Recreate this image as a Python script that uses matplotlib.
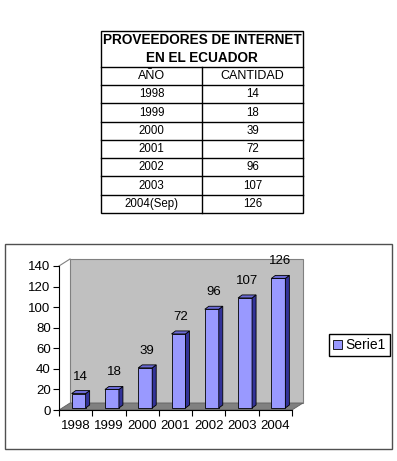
import numpy as np
import matplotlib
matplotlib.use("Agg")
import matplotlib.pyplot as plt
from matplotlib.patches import Rectangle, Polygon

plt.rcParams['font.family'] = ['Liberation Sans', 'DejaVu Sans']

# data
title_lines = ["PROVEEDORES DE INTERNET", "EN EL ECUADOR"]
col_headers = ["AÑO", "CANTIDAD"]
table_years = ["1998", "1999", "2000", "2001", "2002", "2003", "2004(Sep)"]
counts = [14, 18, 39, 72, 96, 107, 126]
chart_years = ["1998", "1999", "2000", "2001", "2002", "2003", "2004"]
series_name = "Serie1"

W, H = 397, 461
fig = plt.figure(figsize=(W / 100, H / 100), dpi=100)

# pixel-space background axes for table, frame
bg = fig.add_axes([0, 0, 1, 1])
bg.set_xlim(0, W)
bg.set_ylim(H, 0)
bg.axis('off')

# ---- table ----
t_left, t_right, t_mid = 101, 303, 202
t_top, t_title_bot, t_bot = 31.5, 67, 213
n_rows = len(table_years) + 1
row_h = (t_bot - t_title_bot) / n_rows

bg.add_patch(Rectangle((t_left, t_top), t_right - t_left, t_bot - t_top,
                       fill=False, edgecolor='black', lw=1))
for i in range(n_rows):
    y = t_title_bot + i * row_h
    bg.plot([t_left, t_right], [y, y], color='black', lw=1)
bg.plot([t_mid, t_mid], [t_title_bot, t_bot], color='black', lw=1)

for i, line in enumerate(title_lines):
    bg.text((t_left + t_right) / 2, 40.5 + i * 17.5, line, ha='center', va='center',
            fontsize=9.8, fontweight='bold')

c1 = (t_left + t_mid) / 2
c2 = (t_mid + t_right) / 2
yc = t_title_bot + row_h / 2
bg.text(c1, yc, col_headers[0], ha='center', va='center', fontsize=9)
bg.text(c2, yc, col_headers[1], ha='center', va='center', fontsize=9)
for i, (yr, n) in enumerate(zip(table_years, counts)):
    yc = t_title_bot + (i + 1.5) * row_h
    bg.text(c1, yc, yr, ha='center', va='center', fontsize=8.3)
    bg.text(c2, yc, str(n), ha='center', va='center', fontsize=8.3)

# ---- chart frame ----
bg.add_patch(Rectangle((5, 243.5), 386.5, 205, fill=False, edgecolor='#505050', lw=1))

# ---- chart axes ----
ax_l, ax_r, ax_t, ax_b = 59, 292, 266, 410
ax = fig.add_axes([ax_l / W, (H - ax_b) / H, (ax_r - ax_l) / W, (ax_b - ax_t) / H])
n = len(counts)
ymax = 140
ax.set_xlim(0, n)
ax.set_ylim(0, ymax)
ax.patch.set_visible(False)

PX_X = n / (ax_r - ax_l)
PX_Y = ymax / (ax_b - ax_t)

wall_dx, wall_dy = 11 * PX_X, 7 * PX_Y
bar_dx, bar_dy = 3 * PX_X, 2 * PX_Y
dep_x, dep_y = 4 * PX_X, 3 * PX_Y
bw = 0.42

# back wall and floor
ax.add_patch(Rectangle((wall_dx, wall_dy), n, ymax, facecolor='#c0c0c0',
                       edgecolor='#808080', lw=0.8, clip_on=False, zorder=0))
ax.add_patch(Polygon([(0, 0), (n, 0), (n + wall_dx, wall_dy), (wall_dx, wall_dy)],
                     facecolor='#808080', edgecolor='#606060', lw=0.6,
                     clip_on=False, zorder=0.5))
ax.plot([0, wall_dx], [ymax, ymax + wall_dy], color='#808080', lw=0.8,
        clip_on=False, zorder=0.5)

x = np.arange(n) + 0.5 + bar_dx
bars = ax.bar(x, counts, width=bw, bottom=bar_dy, color='#9999ff',
              edgecolor='black', lw=0.6, clip_on=False, zorder=3,
              label=series_name)
for xi, v in zip(x, counts):
    xl, xr = xi - bw / 2, xi + bw / 2
    top = bar_dy + v
    ax.add_patch(Polygon([(xr, bar_dy), (xr, top), (xr + dep_x, top + dep_y),
                          (xr + dep_x, bar_dy + dep_y)],
                         facecolor='#333399', edgecolor='black', lw=0.6,
                         clip_on=False, zorder=3))
    ax.add_patch(Polygon([(xl, top), (xr, top), (xr + dep_x, top + dep_y),
                          (xl + dep_x, top + dep_y)],
                         facecolor='#6b6bd6', edgecolor='black', lw=0.6,
                         clip_on=False, zorder=3))
    ax.annotate(str(v), (xi, top), xytext=(2, 17), textcoords='offset pixels',
                ha='center', va='center', fontsize=9.5)

# axes styling
for s in ('top', 'right'):
    ax.spines[s].set_visible(False)
for s in ('left', 'bottom'):
    ax.spines[s].set_linewidth(0.8)
    ax.spines[s].set_zorder(4)

ax.set_yticks(np.arange(0, ymax + 1, 20))
ax.tick_params(axis='y', direction='out', length=4, width=0.8, labelsize=9.5, pad=2)
ax.set_xticks(np.arange(n + 1))
ax.set_xticklabels([])
ax.set_xticks(np.arange(n) + 0.5, minor=True)
ax.set_xticklabels(chart_years, minor=True)
ax.tick_params(axis='x', which='major', direction='out', length=4, width=0.8)
ax.tick_params(axis='x', which='minor', length=0, labelsize=9.5, pad=7)

ax.legend([bars], [series_name], loc='upper left',
          bbox_to_anchor=(329 / W, 1 - 334 / H), bbox_transform=fig.transFigure,
          frameon=True, fancybox=False, edgecolor='black', framealpha=1,
          borderpad=0.3, handlelength=0.6, handleheight=0.6, handletextpad=0.3,
          borderaxespad=0, fontsize=10)

fig.savefig("out.png", dpi=100)
